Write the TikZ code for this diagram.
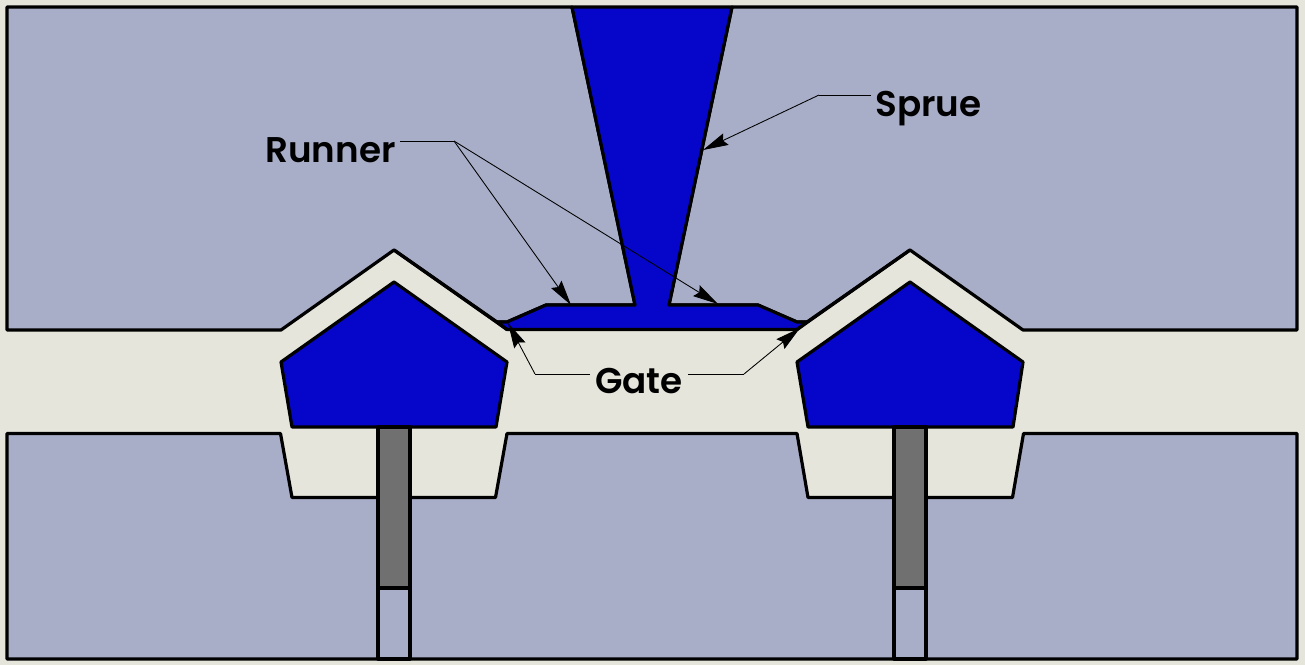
\documentclass[tikz,border=0pt]{standalone}
\usepackage{fontspec}
\setmainfont{Poppins}[BoldFont={Poppins SemiBold}]
\usetikzlibrary{arrows.meta}
\definecolor{moldbg}{HTML}{E5E5DB}
\definecolor{steel}{HTML}{A9AEC8}
\definecolor{melt}{HTML}{0606CB}
\definecolor{pin}{HTML}{707070}
\tikzset{
  part/.style={draw=black,line width=2.4pt,line join=round},
  steelpart/.style={part,fill=steel},
  meltpart/.style={part,fill=melt},
  pinpart/.style={part,fill=pin},
  leader/.style={draw=black,line width=0.65pt,-{Stealth[length=19pt,width=9.5pt,inset=2.5pt]}},
  lead/.style={draw=black,line width=0.65pt},
  callout/.style={font=\fontsize{26.8pt}{29pt}\selectfont\bfseries,inner sep=0pt,text=black}
}
\begin{document}
\begin{tikzpicture}[x=0.75pt,y=-0.75pt]
\useasboundingbox[fill=moldbg] (0,0) rectangle (1305,665);
% upper mold plate
\path[steelpart] (7,7) -- (572,7) -- (635,305) -- (546,305) -- (507,322) -- (497,322) -- (394,250) -- (281,330) -- (7,330) -- cycle;
\path[steelpart] (732,7) -- (1297,7) -- (1297,330) -- (1023,330) -- (910,250) -- (807,322) -- (797,322) -- (758,305) -- (669,305) -- cycle;
% sprue and runner
\path[meltpart] (572,7) -- (732,7) -- (669,305) -- (758,305) -- (797,322) -- (807,322) -- (797,329.5) -- (507,329.5) -- (497,322) -- (507,322) -- (546,305) -- (635,305) -- cycle;
\draw[part] (394,250) -- (507,329.5);
\draw[part] (910,250) -- (797,329.5);
% cavities
\path[meltpart] (394,282) -- (507,362) -- (496,427) -- (292,427) -- (281,362) -- cycle;
\path[meltpart] (910,282) -- (1023,362) -- (1013,427) -- (808,427) -- (797,362) -- cycle;
% lower mold plate
\path[steelpart] (7,433.5) -- (280.5,433.5) -- (292,497.5) -- (378,497.5) -- (378,659) -- (7,659) -- cycle;
\path[steelpart] (410,497.5) -- (495.5,497.5) -- (507,433.5) -- (797,433.5) -- (808,497.5) -- (894,497.5) -- (894,659) -- (410,659) -- cycle;
\path[steelpart] (926,497.5) -- (1012.5,497.5) -- (1023.5,433.5) -- (1297,433.5) -- (1297,659) -- (926,659) -- cycle;
% ejector pins
\path[pinpart] (378,427) rectangle (410,588);
\path[pinpart] (894,427) rectangle (926,588);
\path[steelpart] (378,588) rectangle (410,659);
\path[steelpart] (894,588) rectangle (926,659);
% labels
\node[callout,anchor=base west] (sprue) at (875,116) {Sprue};
\node[callout,anchor=base west] (runner) at (265,162) {Runner};
\node[callout,anchor=base] (gate) at (639,393) {Gate};
% leader coordinates
\coordinate (spruek) at (819,95);
\coordinate (spruet) at (703,150);
\coordinate (runnerk) at (454,141);
\coordinate (runnerta) at (571,305);
\coordinate (runnertb) at (718,304);
\coordinate (gatelk) at (535,374);
\coordinate (gatelt) at (508,323);
\coordinate (gaterk) at (744,374);
\coordinate (gatert) at (800,328);
% leaders
\draw[lead] ([xshift=-3pt]sprue.west |- spruek) -- (spruek);
\draw[leader] (spruek) -- (spruet);
\draw[lead] ([xshift=3pt]runner.east |- runnerk) -- (runnerk);
\draw[leader] (runnerk) -- (runnerta);
\draw[leader] (runnerk) -- (runnertb);
\draw[lead] ([xshift=-4pt]gate.west |- gatelk) -- (gatelk);
\draw[leader] (gatelk) -- (gatelt);
\draw[lead] ([xshift=4pt]gate.east |- gaterk) -- (gaterk);
\draw[leader] (gaterk) -- (gatert);
\end{tikzpicture}
\end{document}
